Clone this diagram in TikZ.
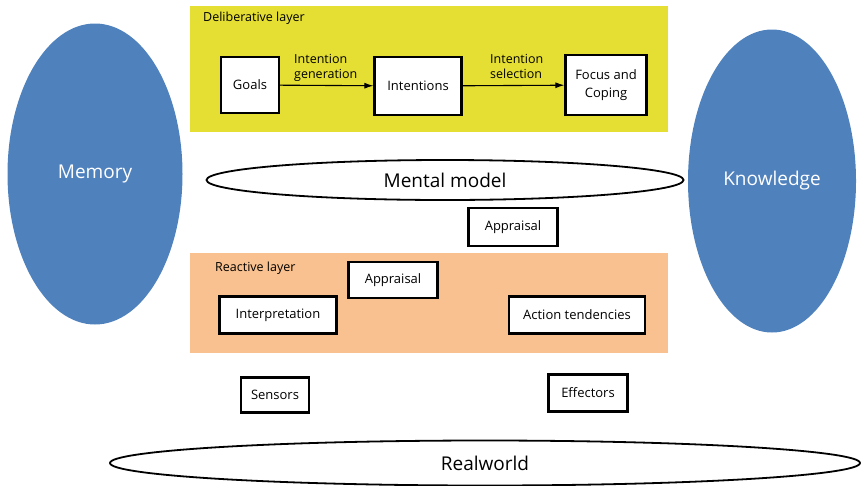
\documentclass[tikz,border=0pt]{standalone}
\usepackage{fontspec}
\setmainfont{Open Sans}
\usepackage{tikz}
\usetikzlibrary{shapes,arrows,arrows.meta,positioning,fit}

\definecolor{memblue}{RGB}{79,129,189}
\definecolor{delyellow}{RGB}{229,223,52}
\definecolor{reaorange}{RGB}{249,193,143}

\begin{document}
\begin{tikzpicture}[x=1pt, y=-1pt,
			block/.style={rectangle, draw, line width=2.2pt, fill=white, font=\fontsize{13}{17.5}\selectfont, align=center, inner sep=2pt},
			store/.style={ellipse, fill=memblue, text=white, inner sep=0pt, font=\fontsize{19}{22}\selectfont},
			world/.style={ellipse, draw, line width=1.8pt, fill=white, inner sep=0pt, font=\fontsize{19}{22}\selectfont},
			layer/.style={rectangle, inner sep=0pt, anchor=north west},
			tag/.style={font=\fontsize{12.5}{15}\selectfont, anchor=west, inner sep=0pt},
			edgetext/.style={font=\fontsize{12.5}{15}\selectfont, align=left, inner sep=0pt},
			flow/.style={-{Latex[length=9pt,width=6pt]}, line width=1.1pt}
		]
		\useasboundingbox (0,0) rectangle (861,485);

		% Memory and Knowledge
		\node[store, minimum width=175, minimum height=301] (memory) at (95,174) {Memory};
		\node[store, minimum width=168, minimum height=303] (knowledge) at (772,181) {Knowledge};

		% Deliberative layer
		\node[layer, fill=delyellow, minimum width=478, minimum height=126] (delib) at (190,6) {};
		\node[tag] (delibtag) at (203,18) {Deliberative layer};
		\node[block, minimum width=58, minimum height=56] (goals) at (250,85) {Goals};
		\node[block, minimum width=87, minimum height=58] (intentions) at (418,86) {Intentions};
		\node[block, minimum width=81, minimum height=60] (focus) at (606,85) {Focus and\\Coping};

		\draw[flow] (goals) -- (intentions);
		\draw[flow] (intentions) -- (focus);
		\node[edgetext, anchor=south west] (gentext) at (294,82) {Intention\\generation};
		\node[edgetext, anchor=south west] (seltext) at (490,79) {Intention\\selection};

		% Mental model
		\node[world, minimum width=477, minimum height=40] (mental) at (445,180) {Mental model};
		\node[block, minimum width=89, minimum height=38] (appraisal1) at (513,227) {Appraisal};

		% Reactive layer
		\node[layer, fill=reaorange, minimum width=478, minimum height=100] (react) at (190,253) {};
		\node[tag] (reacttag) at (215,268) {Reactive layer};
		\node[block, minimum width=89, minimum height=36] (appraisal2) at (393,280) {Appraisal};
		\node[block, minimum width=117, minimum height=37] (interp) at (278,315) {Interpretation};
		\node[block, minimum width=136, minimum height=37] (action) at (577,315) {Action tendencies};

		% Sensors and Effectors
		\node[block, minimum width=68, minimum height=35] (sensors) at (275,395) {Sensors};
		\node[block, minimum width=79, minimum height=37] (effectors) at (588,393) {Effectors};

		% Realworld
		\node[world, minimum width=750, minimum height=45] (real) at (485,463) {Realworld};

	\end{tikzpicture}
\end{document}
